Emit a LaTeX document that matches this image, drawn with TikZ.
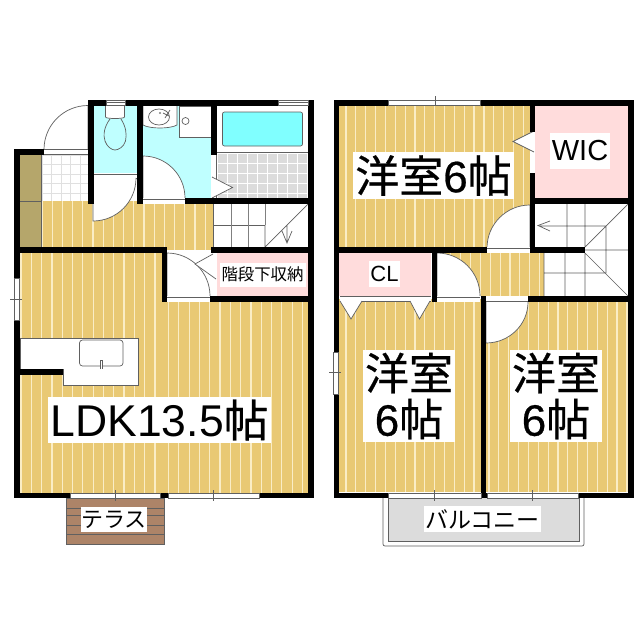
\documentclass[tikz,border=0pt]{standalone}
\usepackage{fontspec}
\setmainfont{Liberation Sans}
\newfontfamily\jp[FakeBold=0.6]{Noto Sans CJK JP}
\newfontfamily\jpthin{Noto Sans CJK JP}
\newfontfamily\digit[FakeBold=0.6]{Liberation Sans}
\definecolor{woodc}{HTML}{E9C974}
\definecolor{woodl}{HTML}{FAEDC6}
\definecolor{bluew}{HTML}{BFFFFF}
\definecolor{blueb}{HTML}{80FFFF}
\definecolor{pinkc}{HTML}{FFDCDC}
\definecolor{olive}{HTML}{B5A66B}
\definecolor{tileg}{HTML}{DCDCDC}
\definecolor{deck}{HTML}{AD8468}
\definecolor{lineg}{HTML}{606060}
\tikzset{
  wall/.style={fill=black},
  fix/.style={draw=lineg,line width=.7pt,fill=white},
  thin line/.style={draw=lineg,line width=.7pt},
  lab/.style={fill=white,inner sep=0pt,align=center,text=black},
}
\newcommand{\wood}[6]{%
  \fill[woodc] (#1,#2) rectangle (#3,#4);
  \begin{scope}
    \clip (#1,#2) rectangle (#3,#4);
    \pgfmathsetmacro\nextx{#5+#6}
    \foreach \sx in {#5,\nextx,...,#3}{\draw[woodl,line width=1.2pt] (\sx,#2) -- (\sx,#4);}
  \end{scope}}
\newcommand{\grid}[7]{%
  \begin{scope}
    \clip (#1,#2) rectangle (#3,#4);
    \fill[#6] (#1,#2) rectangle (#3,#4);
    \pgfmathsetmacro\nextx{#1+#5}
    \pgfmathsetmacro\nexty{#2+#5}
    \foreach \sx in {#1,\nextx,...,#3}{\draw[#7,line width=1pt] (\sx,#2) -- (\sx,#4);}
    \foreach \sy in {#2,\nexty,...,#4}{\draw[#7,line width=1pt] (#1,\sy) -- (#3,\sy);}
  \end{scope}}
\newcommand{\door}[4]{%
  \pgfmathsetmacro\kx{0.5523*#3}
  \pgfmathsetmacro\ky{0.5523*#4}
  \fill[white] (#1,#2) -- ++(#3,0) .. controls +(0,\ky) and +(\kx,0) .. ++(-#3,#4) -- cycle;
  \draw[thin line] (#1,#2) ++(#3,0) .. controls +(0,\ky) and +(\kx,0) .. ++(-#3,#4) -- (#1,#2);}
\newcommand{\winh}[4]{% x1 x2 y tick-x
  \fill[white] (#1,#3) rectangle (#2,#3+5);
  \draw[thin line] (#1,#3) rectangle (#2,#3+5);
  \draw[thin line] (#4,#3-3) -- (#4,#3+8);}
\begin{document}
\begin{tikzpicture}[x=1pt,y=-1pt]
\useasboundingbox (0,0) rectangle (640,640);
\fill[white] (0,0) rectangle (640,640);

% ---------- ground floor: floors
\wood{42}{201}{213}{250}{42}{10.2}
\wood{20}{250}{165}{495}{21}{10.3}
\wood{165}{299}{310}{495}{168.5}{10.3}
\fill[olive] (20,155) rectangle (41,247);
\draw[thin line] (20,201.5) -- (41,201.5) (41,155) -- (41,247);
\grid{42}{155}{88}{201}{9.6}{white}{black!12}
\fill[bluew] (94,105) rectangle (137,173);
\fill[bluew] (143,105) rectangle (211,198);
\fill[white] (217,105) rectangle (308,153);
\grid{217}{153}{308}{198}{10}{tileg}{white}
\fill[white] (213,204) rectangle (308,247);
\fill[pinkc] (217,253) rectangle (308,296);

% toilet
\draw[fix] (105.5,106) -- (105.5,117) .. controls (105.5,119) and (124.5,119) .. (124.5,117) -- (124.5,106);
\draw[thin line,fill=bluew] (110,119) .. controls (104,127) and (103,135) .. (105,141)
  .. controls (107,147) and (112,150) .. (115,150) .. controls (118,150) and (124,147) .. (125.5,141)
  .. controls (127,134) and (126,127) .. (121,119);
\fill[white] (93,173) rectangle (137,178);
\draw[thin line] (93,174) -- (137,174) (93,178) -- (137,178);
\door{93}{178}{43}{43}

% wash room
\draw[fix] (143,106) -- (143,125) .. controls (150,129) and (170,129) .. (177,125) -- (177,106);
\draw[thin line,fill=white] (159,117) ellipse [x radius=10.5,y radius=8];
\fill[black!50] (160,113) circle (1.2);
\draw[thin line] (165,118) -- (170,110) (163,113) -- (169,116);
\draw[fix] (179,106) rectangle (211,137);
\draw[thin line,fill=white] (185.5,121) circle (3.5);
\door{143}{198}{42}{-42}
\fill[white] (143,198) rectangle (185,204);
\draw[thin line] (143,199) -- (185,199);

% bath
\draw[thin line,fill=blueb,rounded corners=2pt] (222.5,112) rectangle (302.5,146);
\draw[thin line] (217,152.5) -- (308,152.5);
\fill[white] (211,155) rectangle (216,198);
\draw[thin line] (216,155) -- (216,198);
\draw[fix] (212,177) -- (232.5,187.5) -- (212,198);

% entry door
\door{88}{149.5}{-44}{-44}
\fill[white] (44,149) rectangle (88,155);
\draw[thin line] (44,154.5) -- (88,154.5) (44,149) -- (88,149);

% stairs lower block
\draw[thin line] (213,225) -- (265,225) (213,204) -- (213,247);
\draw[line width=1pt,black!50] (231,204) -- (231,247) (248,204) -- (248,247) (265,204) -- (265,225);
\draw[thin line] (265,225) -- (265,247) (265,247) -- (308,204) (287,225) -- (287,243) (282,231) -- (287,243) -- (292,231);

% doors of LDK and stair store
\door{167}{296}{43}{-43}
\fill[white] (167,296) rectangle (210,302);
\draw[thin line] (167,297) -- (210,297);
\fill[white] (212,253) rectangle (217,296);
\draw[fix] (213,254) -- (195,264) -- (216,279);

% kitchen
\draw[fix] (20,338) -- (138,338) -- (138,385) -- (63,385) -- (63,369) -- (20,369) -- cycle;
\draw[thin line,rounded corners=3pt] (79.5,340) rectangle (123,366);
\draw[fix] (100,369) -- (100,360) -- (102.5,360) -- (102.5,369);

% terrace
\fill[deck] (66.5,498) rectangle (164,544);
\draw[thin line] (66.5,498) rectangle (164,544);
\foreach \py in {508,515,525,534}{\draw[thin line] (66.5,\py) -- (164,\py);}

% ---------- ground floor: walls
\fill[wall] (88,99.5) rectangle (314,105.5);
\fill[wall] (14.3,149) rectangle (20,498);
\fill[wall] (14.3,149) rectangle (44,155);
\fill[wall] (308,99.5) rectangle (314,498);
\fill[wall] (88,99.5) rectangle (93.5,204);
\fill[wall] (137,99.5) rectangle (143,204);
\fill[wall] (211,99.5) rectangle (216.5,155);
\fill[wall] (185,198) rectangle (314,204);
\fill[wall] (14.3,247) rectangle (167,253);
\fill[wall] (162,247) rectangle (167,302);
\fill[wall] (211,247) rectangle (314,253);
\fill[wall] (210,296) rectangle (314,302);
\fill[wall] (20,369) rectangle (63,375);
\fill[wall] (14.3,492.5) rectangle (314,498);
\fill[white] (278,100) rectangle (308,105);
\draw[thin line] (278,100) rectangle (308,105) (278,102.5) -- (308,102.5);
\fill[white] (106,100) rectangle (125,105);
\draw[thin line] (106,100) rectangle (125,105) (106,102.5) -- (125,102.5);
% windows
\fill[white] (14,278) rectangle (19,320);
\draw[thin line] (14,278) rectangle (19,320) (10,299) -- (22,299);
\winh{70}{160}{493}{115}
\winh{168}{259}{493}{213}

% ---------- upper floor: floors
\wood{339}{106}{530}{250}{346}{9.85}
\wood{437}{250}{544}{296}{441}{9.85}
\wood{339}{299}{483}{492}{346}{9.85}
\wood{486}{299}{628}{492}{489}{9.85}
\fill[pinkc] (535,106) rectangle (628,198);
\fill[pinkc] (339,253) rectangle (431,296);
\fill[white] (535,204) rectangle (628,247);
\fill[white] (544,253) rectangle (628,296);
\fill[white] (585,247) rectangle (628,253);

% stairs upper
\draw[thin line] (567,204) -- (567,247) (585,204) -- (585,247)
  (544,253) -- (544,296) (565,253) -- (565,296) (585,253) -- (585,296)
  (540,226) -- (606,226) (606,226) -- (606,273)
  (585,250) -- (628,250) (544,273) -- (606,273)
  (585,247) -- (628,204) (585,253) -- (628,296)
  (550,221) -- (538,225.5) -- (550,231);

% doors upper
\door{530}{248}{-43}{-43}
\fill[white] (487,247) rectangle (530,253);
\draw[thin line] (487,248) -- (530,248);
\door{437}{296}{43}{-43}
\fill[white] (437,296) rectangle (480,302);
\draw[thin line] (437,297) -- (480,297);
\door{486}{302}{42}{41}
\fill[white] (486,296) rectangle (528,302);
\draw[thin line] (486,301) -- (528,301);
% WIC door
\fill[white] (530,132) rectangle (535,173);
\draw[fix] (534,131) -- (513,141.5) -- (534,152);
% closet strip and doors
\fill[white] (340,296) rectangle (431,301);
\draw[thin line] (340,296.5) -- (431,296.5) (340,301) -- (431,301);
\draw[fix] (340,301) -- (351,319) -- (362,301);
\draw[fix] (410,301) -- (419.5,319) -- (430,301);

% balcony
\draw[draw=lineg,line width=.7pt,fill=white,rounded corners=2pt] (383,498) -- (383,546) -- (584,546) -- (584,498);
\fill[tileg] (388,498) rectangle (579,541.5);
\draw[thin line] (388,498) -- (388,541.5) -- (579,541.5) -- (579,498);

% upper floor: walls
\fill[wall] (333.5,99.5) rectangle (634,106);
\fill[wall] (333.5,99.5) rectangle (339,498);
\fill[wall] (628,99.5) rectangle (634,498);
\fill[wall] (530,99.5) rectangle (535,132);
\fill[wall] (530,173) rectangle (535,253);
\fill[wall] (535,198) rectangle (634,204);
\fill[wall] (339,247) rectangle (487,253);
\fill[wall] (530,247) rectangle (585,253);
\fill[wall] (431.5,253) rectangle (437,302);
\fill[wall] (528,296) rectangle (634,302);
\fill[wall] (480.5,296) rectangle (486,498);
\fill[wall] (333.5,492.5) rectangle (634,498);
% windows
\fill[white] (388,100) rectangle (480,105);
\draw[thin line] (388,100) rectangle (480,105) (435,96) -- (435,106);
\fill[white] (333,352) rectangle (338,394);
\draw[thin line] (333,352) rectangle (338,394) (329,372) -- (341,372);
\winh{388}{481}{493}{434}
\winh{487}{578}{493}{532}

% ---------- labels
\node[lab,minimum width=223pt,minimum height=46pt] (ldk) at (159.5,420) {\fontsize{44.5}{46}\selectfont LDK13.5{\jp 帖}};
\node[lab,minimum width=66pt,minimum height=25pt] (terrace) at (114,519.5) {\fontsize{22}{24}\selectfont\jpthin テラス};
\node[lab,minimum width=86pt,minimum height=24pt] (store) at (262.5,274.5) {\fontsize{16.4}{18}\selectfont\jpthin 階段下収納};
\node[lab,minimum width=161pt,minimum height=47pt] (room1) at (433.5,175.5) {\fontsize{44}{47}\selectfont\jp 洋室{\digit 6}帖};
\node[lab,minimum width=60pt,minimum height=36pt] (wic) at (580,151) {\fontsize{29}{32}\selectfont WIC};
\node[lab,minimum width=31pt,minimum height=26pt] (cl) at (384.5,274) {\fontsize{22}{24}\selectfont CL};
\node[lab,minimum width=92pt,minimum height=92pt,font=\fontsize{44}{46}\selectfont\jp] (room2) at (409,396) {洋室\\{\digit 6}帖};
\node[lab,minimum width=92pt,minimum height=92pt,font=\fontsize{44}{46}\selectfont\jp] (room3) at (556,396) {洋室\\{\digit 6}帖};
\node[lab,minimum width=117pt,minimum height=26pt] (balcony) at (482.5,519) {\fontsize{23}{25}\selectfont\jpthin バルコニー};
\end{tikzpicture}
\end{document}
